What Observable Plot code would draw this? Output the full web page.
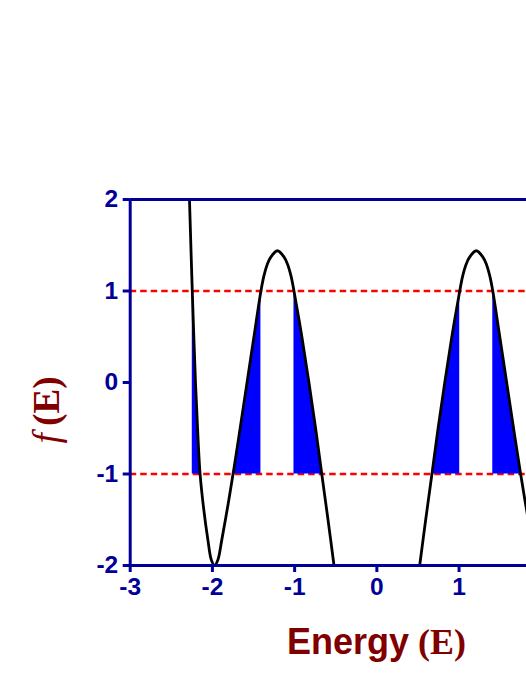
<!DOCTYPE html>
<html>
<head>
<meta charset="utf-8">
<script src="https://cdn.jsdelivr.net/npm/d3@7"></script>
<script src="https://cdn.jsdelivr.net/npm/@observablehq/plot@0.6"></script>
<style>
  html, body { margin: 0; padding: 0; background: #fff; overflow: hidden; }
  #chart { width: 526px; height: 681px; overflow: hidden; }
  #chart svg { max-width: none !important; }
</style>
</head>
<body>
<div id="chart"></div>
<script>
// Data
const leftE = [-2.279, -2.245, -2.206, -2.174, -2.150, -2.109, -2.055, -2.013, -1.974, -1.934, -1.886, -1.815, -1.749, -1.685, -1.579, -1.495, -1.410, -1.375, -1.333, -1.290, -1.209, -1.128, -1.085, -1.043, -1.008, -0.912, -0.826, -0.745, -0.670, -0.594, -0.521];
const leftF = [2.0, 1.0, 0.0, -0.63, -1.0, -1.36, -1.72, -1.94, -2.0, -1.94, -1.72, -1.36, -1.0, -0.63, 0.0, 0.5, 1.0, 1.16, 1.29, 1.37, 1.44, 1.37, 1.29, 1.16, 1.0, 0.5, 0.0, -0.5, -1.0, -1.5, -2.0];
const rightE = [0.521, 0.594, 0.670, 0.745, 0.826, 0.912, 1.008, 1.043, 1.085, 1.128, 1.209, 1.290, 1.333, 1.375, 1.410, 1.495, 1.579, 1.685, 1.749, 1.815, 1.886, 1.934, 1.974, 2.013, 2.055, 2.109, 2.150, 2.174, 2.206, 2.245, 2.279];
const rightF = [-2.0, -1.5, -1.0, -0.5, 0.0, 0.5, 1.0, 1.16, 1.29, 1.37, 1.44, 1.37, 1.29, 1.16, 1.0, 0.5, 0.0, -0.63, -1.0, -1.36, -1.72, -1.94, -2.0, -1.94, -1.72, -1.36, -1.0, -0.63, 0.0, 1.0, 2.0];
const xTicks = [-3, -2, -1, 0, 1];
const yTicks = [-2, -1, 0, 1, 2];
const bandLimits = [-1, 1];
const xDomain = [-3, 3];
const yDomain = [-2, 2];

const axisColor = "#000099";
const labelColor = "#800000";

// Build tables
const rows = [];
[[leftE, leftF, "left"], [rightE, rightF, "right"]].forEach(([es, fs, b]) => {
  es.forEach((e, i) => rows.push({E: e, f: fs[i], branch: b}));
});
// contiguous runs inside the allowed band [-1, 1]
const bandRows = [];
[[leftE, leftF, "left"], [rightE, rightF, "right"]].forEach(([es, fs, b]) => {
  let k = 0, inside = false;
  es.forEach((e, i) => {
    const ok = fs[i] >= bandLimits[0] - 1e-9 && fs[i] <= bandLimits[1] + 1e-9;
    if (ok) {
      if (!inside) k++;
      bandRows.push({E: e, f: fs[i], band: b + k});
    }
    inside = ok;
  });
});

const W = 700, H = 681;
const fmt = d => String(d);
const chart = Plot.plot({
  width: W,
  height: H,
  marginLeft: 129.7,
  marginRight: W - 623,
  marginTop: 199,
  marginBottom: H - 565,
  style: {color: axisColor, background: "#fff", fontFamily: "Arial, 'Liberation Sans', sans-serif", maxWidth: "none"},
  x: {domain: xDomain},
  y: {domain: yDomain},
  marks: [
    Plot.ruleY(bandLimits, {stroke: "#ff0000", strokeWidth: 2.5, strokeDasharray: "6.5,4"}),
    Plot.areaY(bandRows, {x: "E", y1: () => bandLimits[0], y2: "f", z: "band", fill: "#0000ff", curve: "catmull-rom"}),
    Plot.line(rows, {x: "E", y: "f", z: "branch", stroke: "#000", strokeWidth: 2.8, curve: "catmull-rom"}),
    Plot.ruleY([yDomain[0], yDomain[1]], {stroke: axisColor, strokeWidth: 3}),
    Plot.ruleX([xDomain[0], xDomain[1]], {stroke: axisColor, strokeWidth: 3}),
    Plot.axisX(xTicks, {tickSize: 7, tickPadding: 5, strokeWidth: 3, fontSize: 24.5, fontWeight: "bold", label: null, anchor: "bottom", tickFormat: fmt}),
    Plot.axisY(yTicks, {tickSize: 7, tickPadding: 5, strokeWidth: 3, fontSize: 24.5, fontWeight: "bold", label: null, anchor: "left", tickFormat: fmt})
  ]
});
chart.style.maxWidth = "none";
chart.setAttribute("width", W);

const svg = d3.select(chart);
// x-axis label
const xl = svg.append("text")
  .attr("x", 376.5).attr("y", 654)
  .attr("text-anchor", "middle")
  .attr("fill", labelColor)
  .attr("font-size", 36);
xl.append("tspan").attr("font-family", "Arial, 'Liberation Sans', sans-serif").attr("font-weight", "bold").text("Energy");
xl.append("tspan").attr("font-family", "'Liberation Serif', 'Times New Roman', serif").attr("font-weight", "bold").text(" (E)");
// y-axis label
const yl = svg.append("text")
  .attr("transform", "translate(59,410) rotate(-90)")
  .attr("text-anchor", "middle")
  .attr("fill", labelColor)
  .attr("font-size", 37)
  .attr("font-family", "'Liberation Serif', 'Times New Roman', serif");
yl.append("tspan").attr("font-style", "italic").text("f");
yl.append("tspan").attr("font-weight", "bold").text("\u2009(E)");

document.getElementById("chart").appendChild(chart);
</script>
</body>
</html>
